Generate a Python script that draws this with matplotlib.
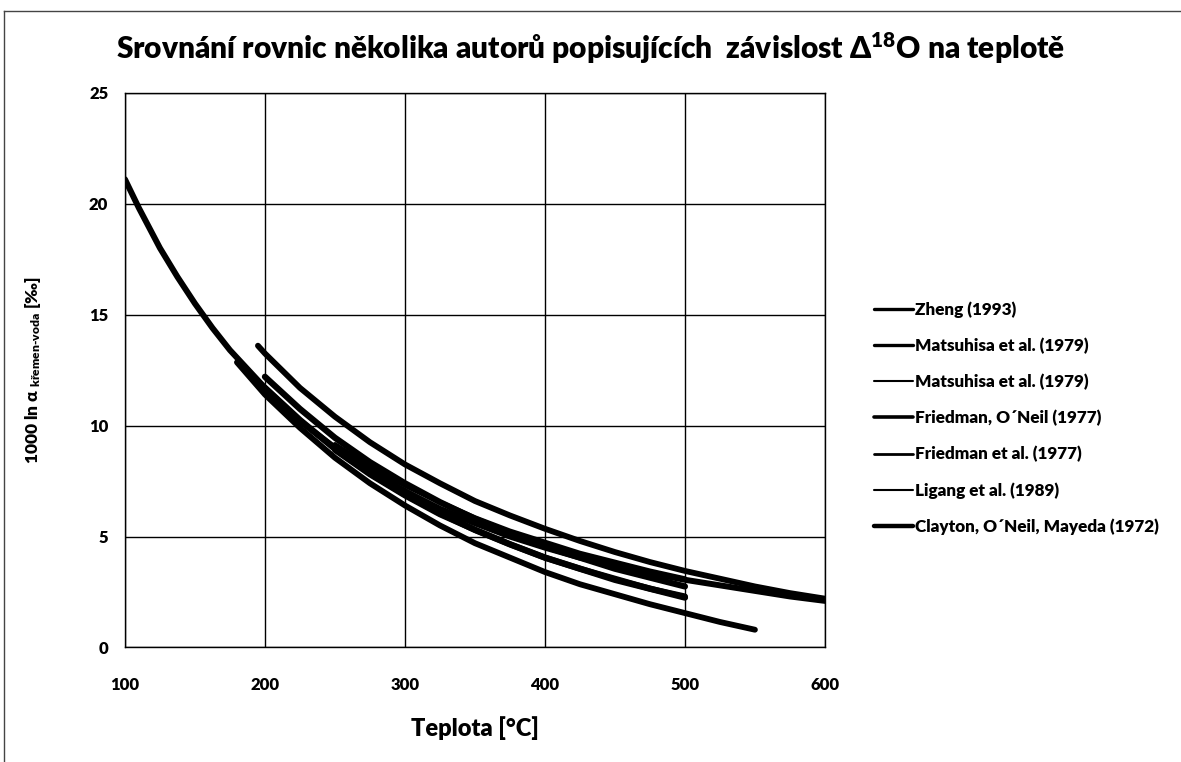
import matplotlib
matplotlib.use("Agg")
import matplotlib.pyplot as plt
from matplotlib.lines import Line2D

plt.rcParams['font.family'] = ['Lato', 'DejaVu Sans']
plt.rcParams['font.weight'] = 'heavy'
plt.rcParams['axes.labelweight'] = 'heavy'
plt.rcParams['mathtext.fontset'] = 'custom'
plt.rcParams['mathtext.rm'] = 'Lato:heavy'
plt.rcParams['mathtext.bf'] = 'Lato:heavy'
plt.rcParams['mathtext.default'] = 'bf'

# teplota [°C] a 1000 ln alfa
t_zheng = [100, 110, 125, 137.5, 150, 162.5, 175, 200, 225, 250, 275, 300, 325,
           350, 375, 400, 425, 450, 475, 500, 525, 550, 575, 600]
y_zheng = [21.1, 19.8, 18.0, 16.7, 15.5, 14.4, 13.4, 11.7, 10.2, 9.0, 7.95, 7.05,
           6.25, 5.6, 5.0, 4.5, 4.05, 3.7, 3.35, 3.05, 2.8, 2.55, 2.3, 2.1]

t_mats1 = [250, 275, 300, 325, 350, 375, 400, 425, 450, 475, 500]
y_mats1 = [8.9, 7.8, 6.85, 6.0, 5.3, 4.65, 4.05, 3.55, 3.1, 2.65, 2.3]

t_mats2 = [250, 275, 300, 325, 350, 375, 400, 425, 450, 475, 500]
y_mats2 = [9.15, 8.15, 7.3, 6.55, 5.85, 5.25, 4.75, 4.25, 3.85, 3.45, 3.1]

t_fo = [200, 225, 250, 275, 300, 325, 350, 375, 400, 425, 450, 475, 500]
y_fo = [12.2, 10.75, 9.45, 8.35, 7.4, 6.55, 5.8, 5.15, 4.55, 4.05, 3.55, 3.15, 2.75]

t_fr = [180, 200, 225, 250, 275, 300, 325, 350, 375, 400, 425, 450, 475, 500,
        525, 550]
y_fr = [12.85, 11.4, 9.9, 8.55, 7.4, 6.4, 5.5, 4.7, 4.05, 3.4, 2.85, 2.4, 1.95,
        1.55, 1.15, 0.8]

t_lig = [195, 200, 225, 250, 275, 300, 325, 350, 375, 400, 425, 450, 475, 500,
         525, 550, 575, 600]
y_lig = [13.6, 13.25, 11.7, 10.4, 9.25, 8.25, 7.4, 6.6, 5.95, 5.35, 4.8, 4.3,
         3.85, 3.45, 3.1, 2.75, 2.45, 2.2]

t_cl = [200, 225, 250, 275, 300, 325, 350, 375, 400, 425, 450, 475, 500]
y_cl = [11.7, 10.25, 8.95, 7.85, 6.9, 6.05, 5.3, 4.65, 4.05, 3.55, 3.05, 2.65, 2.25]

labels = ["Zheng (1993)", "Matsuhisa et al. (1979)", "Matsuhisa et al. (1979)",
          "Friedman, O´Neil (1977)", "Friedman et al. (1977)",
          "Ligang et al. (1989)", "Clayton, O´Neil, Mayeda (1972)"]
series = [(t_zheng, y_zheng), (t_mats1, y_mats1), (t_mats2, y_mats2),
          (t_fo, y_fo), (t_fr, y_fr), (t_lig, y_lig), (t_cl, y_cl)]
plot_lw = [4.3, 4.3, 3.5, 4.5, 4.2, 4.2, 4.6]
legend_lw = [2.4, 2.4, 1.5, 2.6, 2.0, 1.5, 3.2]

fig = plt.figure(figsize=(11.81, 7.62), dpi=100)
ax = fig.add_axes([0.1058, 0.1503, 0.5927, 0.728])

for (t, y), lab, lw in zip(series, labels, plot_lw):
    ax.plot(t, y, color='black', linewidth=lw, label=lab, solid_capstyle='round')

ax.set_xlim(100, 600)
ax.set_ylim(0, 25)
ax.set_xticks(range(100, 601, 100))
ax.set_yticks(range(0, 26, 5))
ax.grid(True, color='black', linewidth=1.0)
ax.set_axisbelow(True)
for s in ax.spines.values():
    s.set_linewidth(1.0)
ax.tick_params(axis='x', length=0, pad=21, labelsize=12)
ax.tick_params(axis='y', length=0, pad=12, labelsize=12)

ax.set_xlabel("Teplota [°C]", fontsize=17, fontweight='heavy', labelpad=17)
ax.set_ylabel(r"1000 ln α $_{křemen‐voda}$ [‰]", fontsize=12.5,
              fontweight='heavy', labelpad=33)

fig.text(0.5, 0.937, r"Srovnání rovnic několika autorů popisujících  závislost Δ$^{18}$O na teplotě",
         ha='center', va='center', fontsize=21.5)

leg = ax.legend(loc='upper left', bbox_to_anchor=(0.727, 0.625),
                bbox_transform=fig.transFigure, frameon=False, fontsize=12.3,
                handlelength=2.3, handletextpad=0.1, labelspacing=1.16)
for ln, lw in zip(leg.get_lines(), legend_lw):
    ln.set_linewidth(lw)

# rámeček grafu
fig.add_artist(Line2D([4 / 1181, 4 / 1181], [0, 1 - 11 / 762], color='#444444',
                      linewidth=1.0, transform=fig.transFigure))
fig.add_artist(Line2D([4 / 1181, 1], [1 - 11 / 762, 1 - 11 / 762], color='#444444',
                      linewidth=1.0, transform=fig.transFigure))

fig.savefig("out.png", dpi=100)
